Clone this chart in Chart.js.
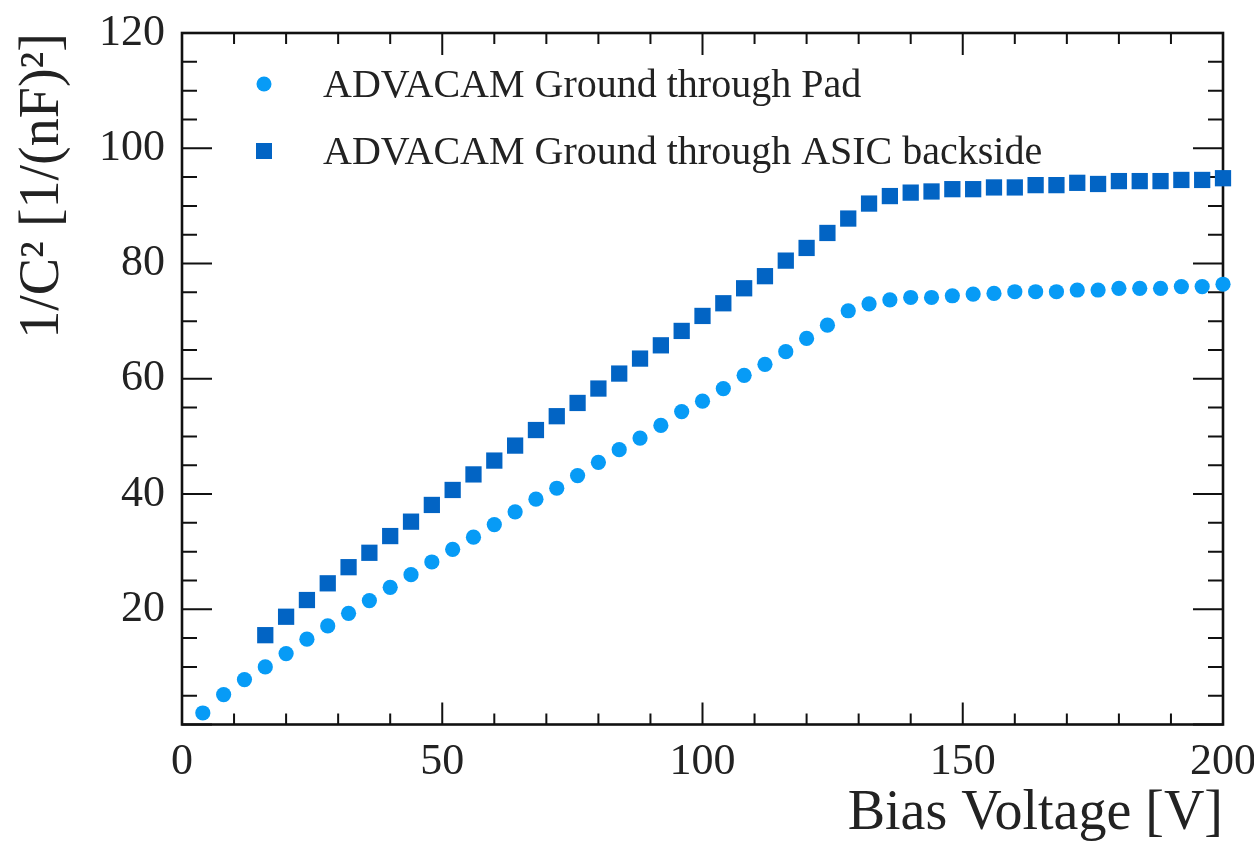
<!DOCTYPE html>
<html>
<head>
<meta charset="utf-8">
<script src="https://cdn.jsdelivr.net/npm/chart.js@4"></script>
<style>
  html, body { margin: 0; padding: 0; background: #ffffff; }
  #wrap { width: 1254px; height: 856px; }
</style>
</head>
<body>
<div id="wrap"><canvas id="c" width="1254" height="856"></canvas></div>
<script>
// ---- data ----
const padVoltage = [4, 8, 12, 16, 20, 24, 28, 32, 36, 40, 44, 48, 52, 56, 60, 64, 68, 72, 76, 80,
  84, 88, 92, 96, 100, 104, 108, 112, 116, 120, 124, 128, 132, 136, 140, 144, 148, 152, 156, 160,
  164, 168, 172, 176, 180, 184, 188, 192, 196, 200];
const padValues = [2.0, 5.2, 7.8, 10.0, 12.3, 14.8, 17.1, 19.3, 21.5, 23.8, 26.0, 28.2, 30.4, 32.5, 34.7, 36.9, 39.1, 41.0, 43.2, 45.5,
  47.7, 49.7, 51.9, 54.3, 56.1, 58.3, 60.6, 62.5, 64.7, 67.0, 69.3, 71.8, 73.0, 73.7, 74.1, 74.1, 74.4, 74.7, 74.8, 75.1,
  75.1, 75.1, 75.4, 75.4, 75.7, 75.7, 75.7, 76.0, 76.0, 76.4];

const asicVoltage = [16, 20, 24, 28, 32, 36, 40, 44, 48, 52, 56, 60, 64, 68, 72, 76, 80,
  84, 88, 92, 96, 100, 104, 108, 112, 116, 120, 124, 128, 132, 136, 140, 144, 148, 152, 156, 160,
  164, 168, 172, 176, 180, 184, 188, 192, 196, 200];
const asicValues = [15.5, 18.7, 21.6, 24.5, 27.3, 29.8, 32.7, 35.2, 38.1, 40.7, 43.4, 45.8, 48.4, 51.1, 53.5, 55.8, 58.3,
  60.9, 63.5, 65.8, 68.3, 70.9, 73.1, 75.7, 77.8, 80.5, 82.7, 85.3, 87.8, 90.4, 91.7, 92.3, 92.5, 92.9, 92.9, 93.2, 93.2,
  93.6, 93.6, 94.0, 93.8, 94.3, 94.3, 94.3, 94.5, 94.5, 94.8];

const seriesNames = ['ADVACAM Ground through Pad', 'ADVACAM Ground through ASIC backside'];
const xTitle = 'Bias Voltage [V]';
const yTitle = '1/C\u00B2 [1/(nF)\u00B2]';
const xRange = [0, 200];
const yRange = [0, 120];
const xMajorStep = 50, xMinorStep = 10;
const yMajorStep = 20, yMinorStep = 5;

// ---- styles ----
const FONT = "'Liberation Serif', 'DejaVu Serif', serif";
const padColor = '#079bf6';
const asicColor = '#0264c4';

function toPoints(xs, ys) { return xs.map((v, i) => ({ x: v, y: ys[i] })); }
function noScalePadding(scale) {
  scale.paddingTop = 0; scale.paddingBottom = 0;
  scale.paddingLeft = 0; scale.paddingRight = 0;
}

const framePlugin = {
  id: 'rootFrame',
  beforeDatasetsDraw(chart) {
    const { ctx, chartArea: a, scales: { x, y } } = chart;
    ctx.save();
    ctx.strokeStyle = '#111111';
    ctx.lineWidth = 2;
    ctx.beginPath();
    for (let v = xRange[0]; v <= xRange[1] + 1e-9; v += xMinorStep) {
      const px = x.getPixelForValue(v);
      const major = Math.abs(v % xMajorStep) < 1e-9;
      const len = major ? 22 : 11;
      ctx.moveTo(px, a.bottom); ctx.lineTo(px, a.bottom - len);
      ctx.moveTo(px, a.top); ctx.lineTo(px, a.top + len);
    }
    for (let v = yRange[0]; v <= yRange[1] + 1e-9; v += yMinorStep) {
      const py = y.getPixelForValue(v);
      const major = Math.abs(v % yMajorStep) < 1e-9;
      const len = major ? 30 : 15;
      ctx.moveTo(a.left, py); ctx.lineTo(a.left + len, py);
      ctx.moveTo(a.right, py); ctx.lineTo(a.right - len, py);
    }
    ctx.stroke();
    ctx.lineWidth = 2.6;
    ctx.strokeRect(a.left, a.top, a.right - a.left, a.bottom - a.top);
    ctx.restore();
  },
  afterDraw(chart) {
    const { ctx, chartArea: a } = chart;
    ctx.save();
    ctx.font = "40px " + FONT;
    ctx.textBaseline = 'middle';
    ctx.textAlign = 'left';
    const ds = chart.data.datasets;
    const rows = [a.top + 51, a.top + 118];
    ds.forEach((d, i) => {
      const mx = a.left + 82, my = rows[i];
      ctx.fillStyle = d.backgroundColor;
      ctx.beginPath();
      if (d.pointStyle === 'rect') {
        ctx.rect(mx - 8, my - 8, 16, 16);
      } else {
        ctx.arc(mx, my, 7.5, 0, Math.PI * 2);
      }
      ctx.fill();
      ctx.fillStyle = '#222222';
      ctx.fillText(d.label, a.left + 141, my + 2);
    });
    ctx.restore();
  }
};

new Chart(document.getElementById('c'), {
  type: 'scatter',
  data: {
    datasets: [
      {
        label: seriesNames[0],
        data: toPoints(padVoltage, padValues),
        backgroundColor: padColor,
        borderWidth: 0,
        pointStyle: 'circle',
        pointRadius: 7.6,
        pointHoverRadius: 7.6,
        clip: false
      },
      {
        label: seriesNames[1],
        data: toPoints(asicVoltage, asicValues),
        backgroundColor: asicColor,
        borderWidth: 0,
        pointStyle: 'rect',
        pointRadius: 11.5,
        pointHoverRadius: 11.5,
        clip: false
      }
    ]
  },
  options: {
    responsive: false,
    animation: false,
    devicePixelRatio: 1,
    layout: { padding: { top: 33, right: 31, left: 0, bottom: 0 } },
    plugins: { legend: { display: false }, tooltip: { enabled: false } },
    scales: {
      x: {
        type: 'linear',
        min: xRange[0], max: xRange[1],
        grid: { display: false, drawTicks: false },
        border: { display: false },
        ticks: {
          stepSize: xMajorStep, autoSkip: false, maxRotation: 0,
          padding: 12, color: '#222222',
          font: { family: FONT, size: 44 }
        },
        title: {
          display: true, text: xTitle, align: 'end', color: '#222222',
          font: { family: FONT, size: 56 }, padding: { top: 0, bottom: 8 }
        },
        afterFit(scale) { scale.height = 131.5; noScalePadding(scale); }
      },
      y: {
        type: 'linear',
        min: yRange[0], max: yRange[1],
        grid: { display: false, drawTicks: false },
        border: { display: false },
        ticks: {
          stepSize: yMajorStep, autoSkip: false,
          padding: 17, color: '#222222',
          font: { family: FONT, size: 44 },
          callback: (v) => (v === 0 ? '' : v)
        },
        title: {
          display: true, text: yTitle, align: 'end', color: '#222222',
          font: { family: FONT, size: 56 }, padding: { top: 10, bottom: 0 }
        },
        afterFit(scale) { scale.width = 182; noScalePadding(scale); }
      }
    }
  },
  plugins: [framePlugin]
});
</script>
</body>
</html>
